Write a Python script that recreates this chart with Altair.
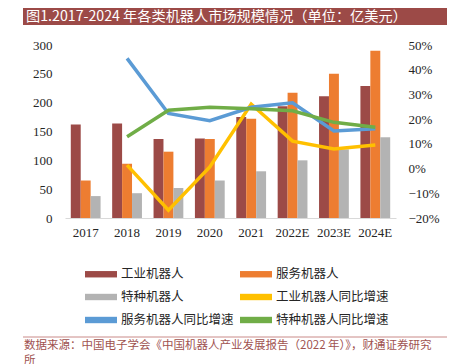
import altair as alt
import pandas as pd

years = ["2017", "2018", "2019", "2020", "2021", "2022E", "2023E", "2024E"]
industrial = [162, 164, 137, 138, 175, 194, 211, 229]
service = [65, 94, 115, 137, 172, 217, 250, 290]
special = [38, 43, 52, 65, 81, 100, 119, 140]
ind_growth = [None, 1.4, -16.8, 0.7, 26.1, 11.1, 7.9, 9.5]
svc_growth = [None, 44.6, 22.3, 19.4, 24.8, 26.6, 15.2, 16.1]
spc_growth = [None, 12.9, 23.6, 24.8, 24.2, 23.4, 18.7, 16.7]

bar_names = ["工业机器人", "服务机器人", "特种机器人"]
line_names = ["工业机器人同比增速", "服务机器人同比增速", "特种机器人同比增速"]
colors = ["#9C4A47", "#ED7D31", "#B3B3B3", "#FFC000", "#5B9BD5", "#70AD47"]
left_ticks = [0, 50, 100, 150, 200, 250, 300]
right_ticks = [-0.2, -0.1, 0, 0.1, 0.2, 0.3, 0.4, 0.5]
title_text = "图1.2017-2024 年各类机器人市场规模情况（单位：亿美元）"
source_text = ["数据来源：中国电子学会《中国机器人产业发展报告（2022 年）》，财通证券研究", "所"]

bar_rows = []
for name, vals in zip(bar_names, [industrial, service, special]):
    for y, v in zip(years, vals):
        bar_rows.append({"year": y, "series": name, "value": v})
bar_df = pd.DataFrame(bar_rows)

line_rows = []
for name, vals in zip(line_names, [ind_growth, svc_growth, spc_growth]):
    for y, v in zip(years, vals):
        if v is not None:
            line_rows.append({"year": y, "series": name, "value": v / 100})
line_df = pd.DataFrame(line_rows)

one = pd.DataFrame({"a": [0]})

CJK = "Noto Sans CJK SC"
SERIF = "Liberation Serif"
TXT = "#262626"

color_scale = alt.Scale(domain=bar_names + line_names, range=colors)

x_enc = alt.X(
    "year:N", sort=years,
    scale=alt.Scale(paddingInner=0.28, paddingOuter=0.14),
    axis=alt.Axis(title=None, labelAngle=0, ticks=False, domainColor="#D9D9D9",
                  labelFont=SERIF, labelFontSize=13, labelColor=TXT, labelPadding=8, grid=False),
)

bars = alt.Chart(bar_df).mark_bar().encode(
    x=x_enc,
    xOffset=alt.XOffset("series:N", sort=bar_names),
    y=alt.Y("value:Q", scale=alt.Scale(domain=[0, 300], nice=False),
            axis=alt.Axis(orient="left", values=left_ticks, title=None, domain=False, ticks=False,
                          grid=False, labelFont=SERIF, labelFontSize=13, labelColor=TXT,
                          labelPadding=13)),
    color=alt.Color("series:N", scale=color_scale, sort=bar_names + line_names,
                    legend=alt.Legend(title=None, orient="none", direction="horizontal",
                                      legendX=20, legendY=213,
                                      columns=2, columnPadding=6, rowPadding=0,
                                      symbolType="M-1,-0.2H1V0.2H-1Z", symbolSize=1024,
                                      symbolStrokeWidth=0, labelFont=CJK, labelFontSize=12.5,
                                      labelColor=TXT, labelOffset=4, labelLimit=300)),
)

lines = alt.Chart(line_df).mark_line(strokeWidth=3.5).encode(
    x=alt.X("year:N", sort=years),
    y=alt.Y("value:Q", scale=alt.Scale(domain=[-0.2, 0.5], nice=False),
            axis=alt.Axis(orient="right", values=right_ticks, format=".0%", title=None,
                          domain=False, ticks=False, grid=False, labelFont=SERIF,
                          labelFontSize=13, labelColor=TXT, labelPadding=12)),
    color=alt.Color("series:N", scale=color_scale, legend=None),
)

banner = alt.Chart(one).mark_rect(color="#9C4A47").encode(
    x=alt.value(-42), x2=alt.value(382), y=alt.value(-42), y2=alt.value(-20))
title = alt.Chart(one).mark_text(align="left", baseline="middle", font=CJK, fontSize=14.2,
                                 color="white").encode(
    x=alt.value(-39), y=alt.value(-28), text=alt.value(title_text))
src_rule = alt.Chart(one).mark_rule(color="#C98A88", strokeWidth=1).encode(
    x=alt.value(-42), x2=alt.value(382), y=alt.value(292))
src_text = alt.Chart(one).mark_text(align="left", baseline="top", font=CJK, fontSize=11.5,
                                    color="#A0524F", lineHeight=15).encode(
    x=alt.value(-41), y=alt.value(295), text=alt.value(source_text))

chart = alt.layer(bars, lines, banner, title, src_rule, src_text).resolve_scale(
    y="independent"
).properties(
    width=331, height=173,
    autosize=alt.AutoSizeParams(type="none"),
    padding={"left": 57, "top": 37, "right": 55, "bottom": 146},
).configure_view(stroke=None)

chart.save("out.html", embed_options={"renderer": "svg", "actions": False})
